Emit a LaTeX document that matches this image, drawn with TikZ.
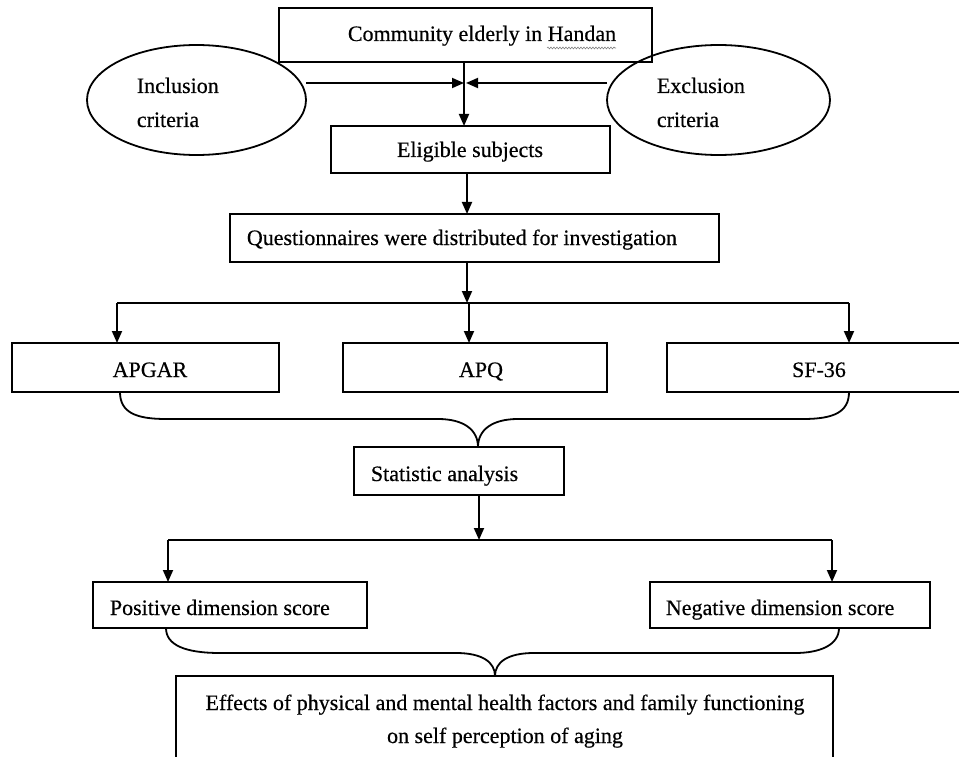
\documentclass[tikz,border=0pt]{standalone}
\usepackage{fontspec}
\setmainfont[FakeBold=0.45]{Liberation Serif}
\usetikzlibrary{arrows.meta,shapes.geometric,decorations.pathmorphing}
\begin{document}
\begin{tikzpicture}[x=1pt,y=-1pt,line width=1.8pt,
  boxn/.style={draw,rectangle,inner sep=0pt,outer sep=0pt},
  ell/.style={draw,ellipse,inner sep=0pt,outer sep=0pt},
  txt/.style={font=\fontsize{22}{26}\selectfont,inner sep=0pt},
  arr/.style={-{Triangle[length=12pt,width=10pt]}}]
\useasboundingbox (0,0) rectangle (959,757);
% boxes
\node[boxn,minimum width=373pt,minimum height=54pt] (top) at (465.5,35) {};
\node[ell,minimum width=219pt,minimum height=110pt] (incl) at (196.5,100) {};
\node[ell,minimum width=223pt,minimum height=110pt] (excl) at (718.5,100) {};
\node[boxn,minimum width=279pt,minimum height=47pt] (elig) at (470.5,149.5) {};
\node[boxn,minimum width=489pt,minimum height=48pt] (quest) at (474.5,238) {};
\node[boxn,minimum width=267pt,minimum height=49pt] (apgar) at (145.5,367.5) {};
\node[boxn,minimum width=264pt,minimum height=49pt] (apq) at (475,367.5) {};
\node[boxn,minimum width=305pt,minimum height=49pt] (sf) at (819.5,367.5) {};
\node[boxn,minimum width=210pt,minimum height=48pt] (stat) at (459,471) {};
\node[boxn,minimum width=274pt,minimum height=46pt] (pos) at (230,605) {};
\node[boxn,minimum width=280pt,minimum height=46pt] (neg) at (790,605) {};
\node[boxn,minimum width=657pt,minimum height=120pt] (fin) at (504.5,736) {};
% texts
\node[txt,anchor=base west] (ttop) at (347,41) {Community elderly in Handan};
\draw[decorate,decoration={snake,amplitude=0.9pt,segment length=3pt},line width=0.6pt,gray] (547,48) -- (616,48);
\node[txt,anchor=base west] (tincl1) at (136,93) {Inclusion};
\node[txt,anchor=base west] (tincl2) at (136,127) {criteria};
\node[txt,anchor=base west] (texcl1) at (656,93) {Exclusion};
\node[txt,anchor=base west] (texcl2) at (656,127) {criteria};
\node[txt,anchor=base] (telig) at (470,157) {Eligible subjects};
\node[txt,anchor=base west] (tquest) at (246,245) {Questionnaires were distributed for investigation};
\node[txt,anchor=base] (tapgar) at (150,377) {APGAR};
\node[txt,anchor=base] (tapq) at (481,377) {APQ};
\node[txt,anchor=base] (tsf) at (819,377) {SF-36};
\node[txt,anchor=base west] (tstat) at (370,481) {Statistic analysis};
\node[txt,anchor=base west] (tpos) at (109,615) {Positive dimension score};
\node[txt,anchor=base west] (tneg) at (665,615) {Negative dimension score};
\node[txt,anchor=base] (tfin1) at (505,710) {Effects of physical and mental health factors and family functioning};
\node[txt,anchor=base] (tfin2) at (505,743) {on self perception of aging};
% coordinates
\coordinate (cx) at (464,0);
\coordinate (cx2) at (466,0);
\coordinate (ha) at (0,83);
\coordinate (cq) at (467,0);
\coordinate (bus1) at (467,303);
\coordinate (busL) at (117,303);
\coordinate (busM) at (469,303);
\coordinate (busR) at (849,303);
\coordinate (t1) at (478,447);
\coordinate (bus2) at (479,540);
\coordinate (b2L) at (168,540);
\coordinate (b2R) at (832,540);
\coordinate (t2) at (495,676);
% connectors
\draw[arr] (top.south -| cx) -- (elig.north -| cx);
\draw[arr] (incl.east |- ha) -- (cx |- ha);
\draw[arr] (excl.west |- ha) -- (cx2 |- ha);
\draw[arr] (elig.south -| cq) -- (quest.north -| cq);
\draw[arr] (quest.south -| cq) -- (bus1);
\draw (busL) -- (busR);
\draw[arr] (busL) -- (apgar.north -| busL);
\draw[arr] (busM) -- (apq.north -| busM);
\draw[arr] (busR) -- (sf.north -| busR);
\draw (apgar.south -| 120,0) .. controls (120,412) and (135,419) .. (166,419) -- (438,419) .. controls (464,419) and (478,430) .. (t1);
\draw (sf.south -| 849,0) .. controls (849,412) and (834,419) .. (803,419) -- (518,419) .. controls (492,419) and (478,430) .. (t1);
\draw[arr] (stat.south -| bus2) -- (bus2);
\draw (b2L) -- (b2R);
\draw[arr] (b2L) -- (pos.north -| b2L);
\draw[arr] (b2R) -- (neg.north -| b2R);
\draw (pos.south -| 166,0) .. controls (166,645) and (185,653) .. (220,653) -- (456,653) .. controls (482,653) and (495,662) .. (t2);
\draw (neg.south -| 839,0) .. controls (839,645) and (820,653) .. (795,653) -- (534,653) .. controls (508,653) and (495,662) .. (t2);
\end{tikzpicture}
\end{document}
